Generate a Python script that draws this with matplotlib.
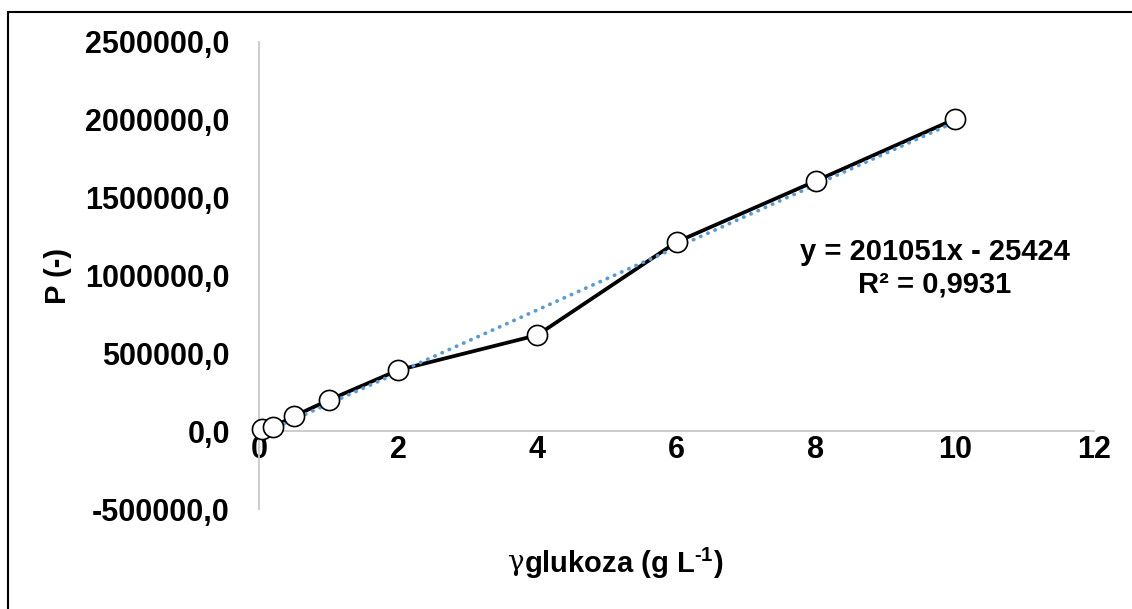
import matplotlib
matplotlib.use("Agg")
import matplotlib.pyplot as plt
from matplotlib.ticker import FuncFormatter, FixedLocator
from matplotlib.patches import Rectangle
import numpy as np

plt.rcParams['font.family'] = ['Liberation Sans', 'DejaVu Sans']
plt.rcParams['mathtext.fontset'] = 'custom'
plt.rcParams['mathtext.rm'] = 'Liberation Sans:bold'
plt.rcParams['mathtext.bf'] = 'Liberation Sans:bold'

# data
conc = [0.05, 0.2, 0.5, 1, 2, 4, 6, 8, 10]
signal = [12800, 25700, 96000, 199000, 392000, 617000, 1215000, 1607000, 2005000]
slope = 201051
intercept = -25424
eq_text = "y = 201051x - 25424\nR² = 0,9931"
x_ticks = [0, 2, 4, 6, 8, 10, 12]
y_ticks = [-500000, 0, 500000, 1000000, 1500000, 2000000, 2500000]

W, H = 1132, 609
fig = plt.figure(figsize=(W/100, H/100), dpi=100)
ax = fig.add_axes([259/W, 1-509/H, (1094-259)/W, (509-42)/H])

trend_x = np.array([min(conc), max(conc)])
ax.plot(trend_x, slope*trend_x + intercept, color='#5B9BD5', lw=2.7,
        linestyle=(0, (0.1, 2.0)), dash_capstyle='round', zorder=3)
ax.plot(conc, signal, color='black', lw=2.7, zorder=2, clip_on=False)
ax.plot(conc, signal, linestyle='none', marker='o', ms=14.5, mfc='white',
        mec='black', mew=1.2, zorder=4, clip_on=False)

ax.set_xlim(0, 12)
ax.set_ylim(-500000, 2500000)
ax.xaxis.set_major_locator(FixedLocator(x_ticks))
ax.yaxis.set_major_locator(FixedLocator(y_ticks))
ax.yaxis.set_major_formatter(FuncFormatter(lambda v, p: f"{v:.1f}".replace('.', ',')))
ax.xaxis.set_major_formatter(FuncFormatter(lambda v, p: f"{int(v)}"))

for s in ['top', 'right']:
    ax.spines[s].set_visible(False)
ax.spines['bottom'].set_position(('data', 0))
ax.spines['bottom'].set_color('#C8C8C8')
ax.spines['left'].set_color('#C8C8C8')
ax.spines['bottom'].set_linewidth(1.3)
ax.spines['left'].set_linewidth(1.3)
ax.tick_params(axis='both', length=0, labelsize=22)
ax.tick_params(axis='y', pad=21)
ax.tick_params(axis='x', pad=3)
for lab in ax.get_xticklabels() + ax.get_yticklabels():
    lab.set_fontweight('bold')

ax.text((935-259)/(1094-259)*12, 1045000, eq_text, ha='center', va='center',
        fontsize=21, fontweight='bold', linespacing=1.2)

fig.text(58/W, 1-276/H, "P (-)", rotation=90, ha='center', va='center',
         fontsize=21, fontweight='bold')
fig.text(508/W, 1-563/H, "γ", ha='left', va='center', fontsize=20,
         family=['DejaVu Serif'])
fig.text(524/W, 1-563/H, "glukoza (g L$^{\\text{-1}}$)", ha='left', va='center',
         fontsize=21, fontweight='bold')

fig.add_artist(Rectangle((7.5/W, -0.1), 2, 1-12/H+0.1, transform=fig.transFigure,
                         fill=False, edgecolor='black', lw=1.5))

fig.savefig("out.png", dpi=100)
